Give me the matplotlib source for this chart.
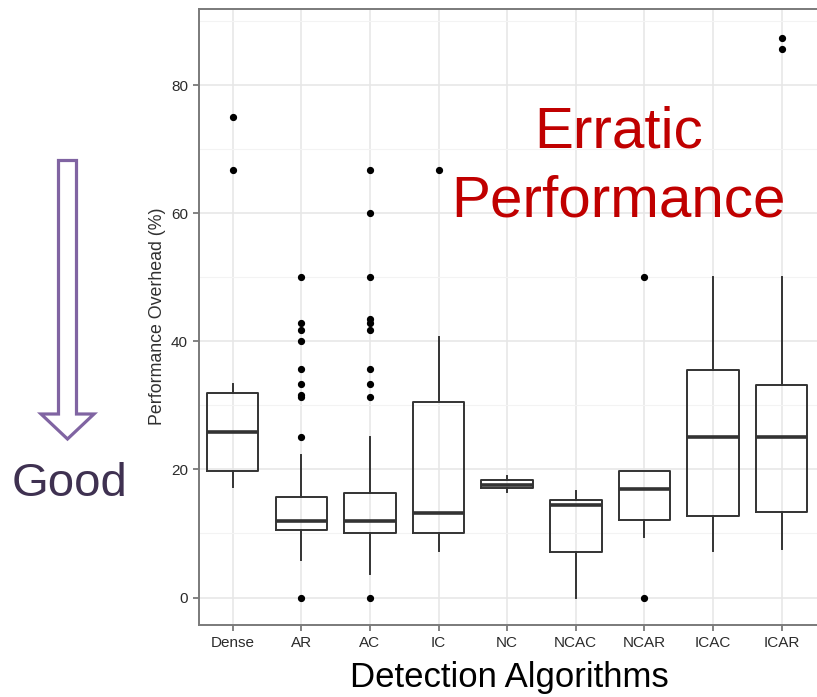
import matplotlib.pyplot as plt
from matplotlib.patches import Polygon
import numpy as np

plt.rcParams['font.family'] = ['Liberation Sans', 'DejaVu Sans']

# box statistics (percent)
algorithms = ['Dense', 'AR', 'AC', 'IC', 'NC', 'NCAC', 'NCAR', 'ICAC', 'ICAR']
q1      = [19.8, 10.5, 10.0, 10.0, 17.1,  7.1, 12.1, 12.7, 13.3]
median  = [25.9, 12.0, 12.0, 13.2, 17.5, 14.4, 17.0, 25.0, 25.0]
q3      = [31.9, 15.7, 16.3, 30.5, 18.3, 15.3, 19.8, 35.5, 33.1]
whis_lo = [17.3,  5.8,  3.7,  7.3, 16.4,  0.0,  9.4,  7.3,  7.6]
whis_hi = [33.3, 22.3, 25.0, 40.6, 19.0, 16.6, 19.8, 50.0, 50.0]
outliers = [
    [66.7, 75.0],
    [0.0, 25.0, 31.25, 31.6, 33.3, 35.7, 40.0, 41.7, 42.9, 50.0],
    [0.0, 31.25, 33.3, 35.7, 41.7, 42.9, 43.5, 50.0, 60.0, 66.7],
    [66.7],
    [],
    [],
    [0.0, 50.0],
    [],
    [85.6, 87.4],
]

stats = []
for i, name in enumerate(algorithms):
    stats.append(dict(label=name, q1=q1[i], med=median[i], q3=q3[i],
                      whislo=whis_lo[i], whishi=whis_hi[i], fliers=outliers[i]))

W, H = 817, 697
fig = plt.figure(figsize=(W / 100, H / 100), dpi=100)
ax = fig.add_axes([199 / W, 1 - 625 / H, 630 / W, 616 / H])

pos = np.arange(len(algorithms))
ax.bxp(stats, positions=pos, widths=0.75, showcaps=False, patch_artist=False,
       boxprops=dict(color='#333333', linewidth=1.4),
       whiskerprops=dict(color='#333333', linewidth=1.4),
       medianprops=dict(color='#333333', linewidth=2.6),
       flierprops=dict(marker='o', markerfacecolor='black', markeredgecolor='black',
                       markersize=4.2))

ax.set_xlim(-0.49, 8.69)
ax.set_ylim(-4.29, 91.87)
ax.set_xticks(pos)
ax.set_xticklabels(algorithms)
ax.set_yticks([0, 20, 40, 60, 80])
ax.set_yticks([10, 30, 50, 70, 90], minor=True)

ax.grid(True, which='major', color='#e6e6e6', linewidth=1.1, zorder=0)
ax.grid(True, which='minor', axis='y', color='#f3f3f3', linewidth=0.8, zorder=0)
ax.set_axisbelow(True)

for side in ['left', 'bottom', 'top']:
    ax.spines[side].set_color('#7a7a7a')
    ax.spines[side].set_linewidth(1.4)
ax.spines['right'].set_visible(False)

ax.tick_params(axis='both', which='major', length=4.5, width=1.3, color='#7a7a7a',
               labelsize=11, labelcolor='#2b2b2b', pad=3.5)
ax.tick_params(axis='y', which='minor', length=0)

fig.text(158 / W, 1 - 316 / H, 'Performance Overhead (%)', rotation=90,
         ha='center', va='center', fontsize=12.8, color='#303030')
fig.text(509 / W, 1 - 677 / H, 'Detection Algorithms', ha='center', va='center',
         fontsize=25, color='black')

fig.text(619 / W, 1 - 148 / H, 'Erratic', ha='center', va='baseline',
         fontsize=42, color='#C00000')
fig.text(619 / W, 1 - 217 / H, 'Performance', ha='center', va='baseline',
         fontsize=42, color='#C00000')

# hollow "good" arrow on the left
arrow_px = [(58.5, 160.5), (76.5, 160.5), (76.5, 414), (94, 414),
            (67.5, 439), (41, 414), (58.5, 414)]
arrow = Polygon([(x / W, 1 - y / H) for x, y in arrow_px], closed=True,
                transform=fig.transFigure, facecolor='white',
                edgecolor='#8064A2', linewidth=2.3)
fig.patches.append(arrow)
fig.text(69 / W, 1 - 496 / H, 'Good', ha='center', va='baseline',
         fontsize=34, color='#3F3151')

fig.savefig('out.png', dpi=100)
